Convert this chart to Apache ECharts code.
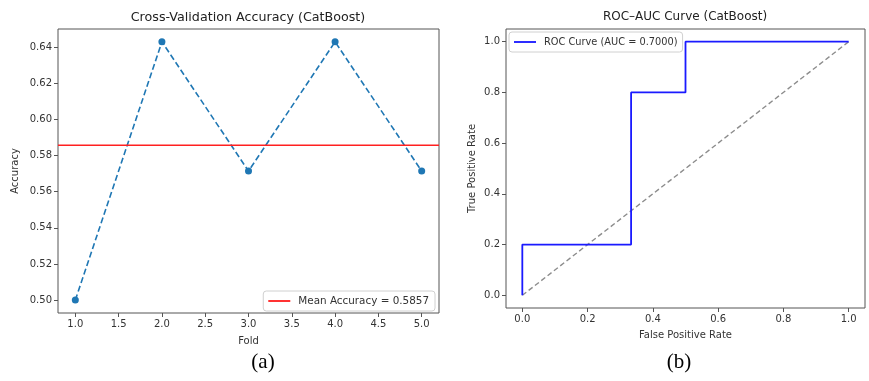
<!DOCTYPE html>
<html>
<head>
<meta charset="utf-8">
<script src="https://cdn.jsdelivr.net/npm/echarts@6/dist/echarts.min.js"></script>
<style>
html,body{margin:0;padding:0;background:#fff;}
#c{width:869px;height:381px;}
</style>
</head>
<body>
<div id="c"></div>
<script>
// ---- data ----
const folds = [1, 2, 3, 4, 5];
const foldAccuracy = [0.5000, 0.6429, 0.5714, 0.6429, 0.5714];
const meanAccuracy = 0.5857;
const foldTicks = [1.0, 1.5, 2.0, 2.5, 3.0, 3.5, 4.0, 4.5, 5.0];
const accTicks = [0.50, 0.52, 0.54, 0.56, 0.58, 0.60, 0.62, 0.64];
const fpr = [0, 0, 0.3333, 0.3333, 0.5, 0.5, 1.0];
const tpr = [0, 0.2, 0.2, 0.8, 0.8, 1.0, 1.0];
const chanceX = [0, 1];
const chanceY = [0, 1];
const rateTicks = [0.0, 0.2, 0.4, 0.6, 0.8, 1.0];
const aucLabel = 'ROC Curve (AUC = 0.7000)';
const meanLabel = 'Mean Accuracy = 0.5857';

// axis extents (matplotlib-style 5% margins)
const foldMin = 0.8, foldMax = 5.2;
const accMin = 0.49286, accMax = 0.65;
const rateMin = -0.05, rateMax = 1.05;

const FONT = 'DejaVu Sans';
const txt = '#333';
const frame = '#555';

function axisCommon(ticks, digits) {
  return {
    axisLine: { show: false, onZero: false },
    axisTick: { show: true, inside: false, length: 4, lineStyle: { color: frame }, customValues: ticks },
    axisLabel: { show: true, color: txt, fontFamily: FONT, fontSize: 10, margin: 6,
      customValues: ticks, formatter: v => Number(v).toFixed(digits) },
    splitLine: { show: false }
  };
}

const lineIcon = 'path://M0,0 L24,0 L24,2 L0,2 Z';

const chart = echarts.init(document.getElementById('c'), null, { renderer: 'canvas' });
chart.setOption({
  animation: false,
  backgroundColor: '#fff',
  title: [
    { text: 'Cross-Validation Accuracy (CatBoost)', left: 248, top: 11, textAlign: 'center', padding: 0,
      textStyle: { fontFamily: FONT, fontSize: 12.7, fontWeight: 'normal', color: '#222' } },
    { text: 'ROC–AUC Curve (CatBoost)', left: 685, top: 11, textAlign: 'center', padding: 0,
      textStyle: { fontFamily: FONT, fontSize: 12, fontWeight: 'normal', color: '#222' } },
    { text: '(a)', left: 263, top: 352, textAlign: 'center', padding: 0,
      textStyle: { fontFamily: 'Liberation Serif', fontSize: 21, fontWeight: 'normal', color: '#000' } },
    { text: '(b)', left: 679, top: 352, textAlign: 'center', padding: 0,
      textStyle: { fontFamily: 'Liberation Serif', fontSize: 21, fontWeight: 'normal', color: '#000' } }
  ],
  grid: [
    { left: 58, right: 430, top: 29, bottom: 68, show: true, borderColor: frame, borderWidth: 1, backgroundColor: '#fff', containLabel: false },
    { left: 506, right: 4, top: 29, bottom: 73, show: true, borderColor: frame, borderWidth: 1, backgroundColor: '#fff', containLabel: false }
  ],
  legend: [
    { data: [{ name: meanLabel, icon: lineIcon }], right: 434, bottom: 70, orient: 'vertical',
      backgroundColor: '#fff', borderColor: '#d0d0d0', borderWidth: 1, borderRadius: 3,
      padding: [5, 6, 5, 5], itemWidth: 22, itemHeight: 2, itemGap: 4,
      textStyle: { fontFamily: FONT, fontSize: 10.4, color: txt, padding: [0, 0, 0, 3] } },
    { data: [{ name: aucLabel, icon: lineIcon }], left: 509, top: 32, orient: 'vertical',
      backgroundColor: '#fff', borderColor: '#d0d0d0', borderWidth: 1, borderRadius: 3,
      padding: [5, 5, 5, 5], itemWidth: 22, itemHeight: 2, itemGap: 4,
      textStyle: { fontFamily: FONT, fontSize: 9.8, color: txt, padding: [0, 0, 0, 3] } }
  ],
  xAxis: [
    Object.assign({ type: 'value', gridIndex: 0, min: foldMin, max: foldMax, name: 'Fold', nameLocation: 'middle', nameGap: 23,
      nameTextStyle: { fontFamily: FONT, fontSize: 10, color: txt } }, axisCommon(foldTicks, 1)),
    Object.assign({ type: 'value', gridIndex: 1, min: rateMin, max: rateMax, name: 'False Positive Rate', nameLocation: 'middle', nameGap: 22,
      nameTextStyle: { fontFamily: FONT, fontSize: 10, color: txt } }, axisCommon(rateTicks, 1))
  ],
  yAxis: [
    Object.assign({ type: 'value', gridIndex: 0, min: accMin, max: accMax, name: 'Accuracy', nameLocation: 'middle', nameGap: 38,
      nameTextStyle: { fontFamily: FONT, fontSize: 10, color: txt } }, axisCommon(accTicks, 2)),
    Object.assign({ type: 'value', gridIndex: 1, min: rateMin, max: rateMax, name: 'True Positive Rate', nameLocation: 'middle', nameGap: 29,
      nameTextStyle: { fontFamily: FONT, fontSize: 10, color: txt } }, axisCommon(rateTicks, 1))
  ],
  series: [
    { type: 'line', name: 'Accuracy', xAxisIndex: 0, yAxisIndex: 0, z: 2,
      data: folds.map((f, i) => [f, foldAccuracy[i]]),
      symbol: 'circle', symbolSize: 7,
      itemStyle: { color: '#1f77b4' },
      lineStyle: { color: '#1f77b4', width: 1.6, type: [6, 3] } },
    { type: 'line', name: meanLabel, xAxisIndex: 0, yAxisIndex: 0, z: 3,
      data: [[foldMin, meanAccuracy], [foldMax, meanAccuracy]],
      symbol: 'none', itemStyle: { color: '#ff2020' }, lineStyle: { color: '#ff2020', width: 1.6 } },
    { type: 'line', name: 'chance', xAxisIndex: 1, yAxisIndex: 1,
      data: chanceX.map((x, i) => [x, chanceY[i]]),
      symbol: 'none', lineStyle: { color: '#8c8c8c', width: 1.4, type: [5, 3] } },
    { type: 'line', name: aucLabel, xAxisIndex: 1, yAxisIndex: 1,
      data: fpr.map((x, i) => [x, tpr[i]]),
      symbol: 'none', itemStyle: { color: '#1a1aff' }, lineStyle: { color: '#1a1aff', width: 1.8 } }
  ]
});
</script>
</body>
</html>
